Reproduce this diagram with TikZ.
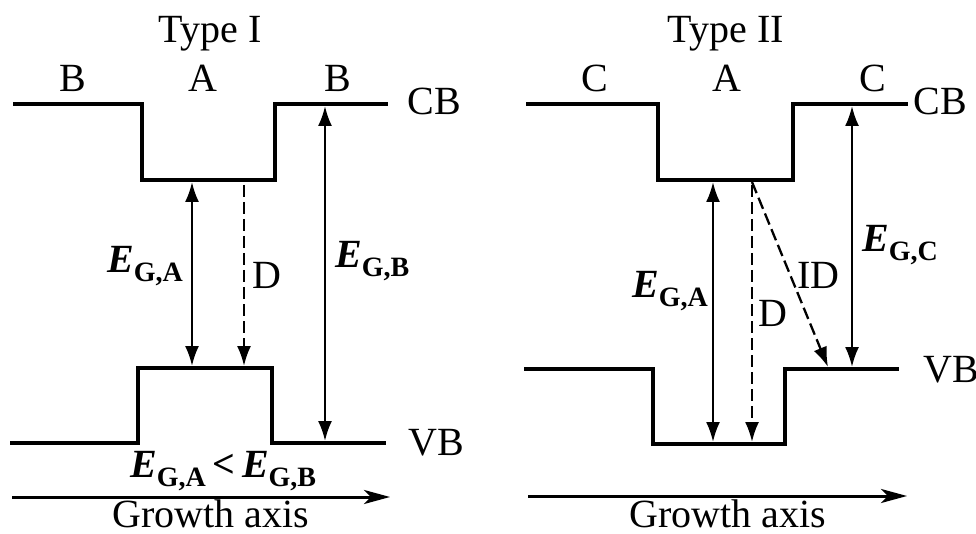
\documentclass[tikz,border=0pt]{standalone}
\usepackage{fontspec}
\setmainfont{Liberation Serif}
\usetikzlibrary{arrows.meta}

% band-gap symbol E_{G,x}: large bold italic E, bold upright subscript
\newcommand{\gapsym}[1]{{\fontsize{40}{40}\selectfont\bfseries\itshape E}\raisebox{-9pt}{\fontsize{28}{28}\selectfont\bfseries G,#1}}

\begin{document}
\begin{tikzpicture}[x=1pt,y=-1pt,
  band/.style={line width=4pt, line join=miter},
  gaparrow/.style={line width=2.3pt, {Latex[length=20pt,width=14pt]}-{Latex[length=20pt,width=14pt]}},
  dasharrow/.style={line width=2.3pt, dash pattern=on 12pt off 5pt, -{Latex[length=20pt,width=14pt]}},
  axisarrow/.style={line width=3pt, -{Stealth[length=26pt,width=14pt,inset=7pt]}},
  lbl/.style={font=\fontsize{40}{46}\selectfont, inner sep=0pt, anchor=base},
  lblw/.style={font=\fontsize{40}{46}\selectfont, inner sep=0pt, anchor=base west}]
\useasboundingbox (0,0) rectangle (976,534);

% ---------------- Type I ----------------
\node[lbl] (t1) at (210,43) {Type I};
\node[lbl] (b1) at (73,92) {B};
\node[lbl] (a1) at (203,92) {A};
\node[lbl] (b2) at (338,92) {B};
\node[lbl] (cb1) at (434,115) {CB};
\node[lbl] (vb1) at (436,455) {VB};

% conduction band (well) and valence band (barrier)
\draw[band] (13,104) -- (142,104) -- (142,180) -- (275,180) -- (275,104) -- (388,104);
\draw[band] (10,443) -- (138,443) -- (138,368) -- (272,368) -- (272,443) -- (386,443);

\coordinate (ga1t) at (192,182);
\coordinate (ga1b) at (192,366);
\coordinate (d1t) at (244,185);
\coordinate (d1b) at (244,366);
\coordinate (gb1t) at (325,106);
\coordinate (gb1b) at (325,441);
\draw[gaparrow] (ga1t) -- (ga1b);
\draw[dasharrow] (d1t) -- (d1b);
\draw[gaparrow] (gb1t) -- (gb1b);

\node[lblw] (ega1) at (107,273) {\gapsym{A}};
\node[lblw] (dl1) at (252,289) {D};
\node[lblw] (egb1) at (335,268) {\gapsym{B}};
\node[lblw] (cmp) at (130,477) {\gapsym{A}\,{\fontsize{40}{40}\selectfont\bfseries<}\,\gapsym{B}};

\coordinate (ax1s) at (12,497);
\coordinate (ax1e) at (390,497);
\draw[axisarrow] (ax1s) -- (ax1e);
\node[lbl] (gx1) at (211,527) {Growth axis};

% ---------------- Type II ----------------
\node[lbl] (t2) at (726,43) {Type II};
\node[lbl] (c1) at (595,92) {C};
\node[lbl] (a2) at (727,92) {A};
\node[lbl] (c2) at (873,92) {C};
\node[lbl] (cb2) at (940,115) {CB};
\node[lblw] (vb2) at (923,382) {VB};

\draw[band] (526,104) -- (658,104) -- (658,180) -- (793,180) -- (793,104) -- (908,104);
\draw[band] (524,369) -- (653,369) -- (653,444) -- (785,444) -- (785,369) -- (899,369);

\coordinate (ga2t) at (713,182);
\coordinate (ga2b) at (713,442);
\coordinate (d2t) at (752,185);
\coordinate (d2b) at (752,442);
\coordinate (idt) at (752,182);
\coordinate (idb) at (828,367);
\coordinate (gct) at (852,106);
\coordinate (gcb) at (852,367);
\draw[gaparrow] (ga2t) -- (ga2b);
\draw[dasharrow] (d2t) -- (d2b);
\draw[dasharrow] (idt) -- (idb);
\draw[gaparrow] (gct) -- (gcb);

\node[lblw] (ega2) at (632,298) {\gapsym{A}};
\node[lblw] (dl2) at (758,326) {D};
\node[lblw] (idl) at (797,288) {ID};
\node[lblw] (egc) at (862,252) {\gapsym{C}};

\coordinate (ax2s) at (528,496);
\coordinate (ax2e) at (907,496);
\draw[axisarrow] (ax2s) -- (ax2e);
\node[lbl] (gx2) at (728,527) {Growth axis};
\end{tikzpicture}
\end{document}
